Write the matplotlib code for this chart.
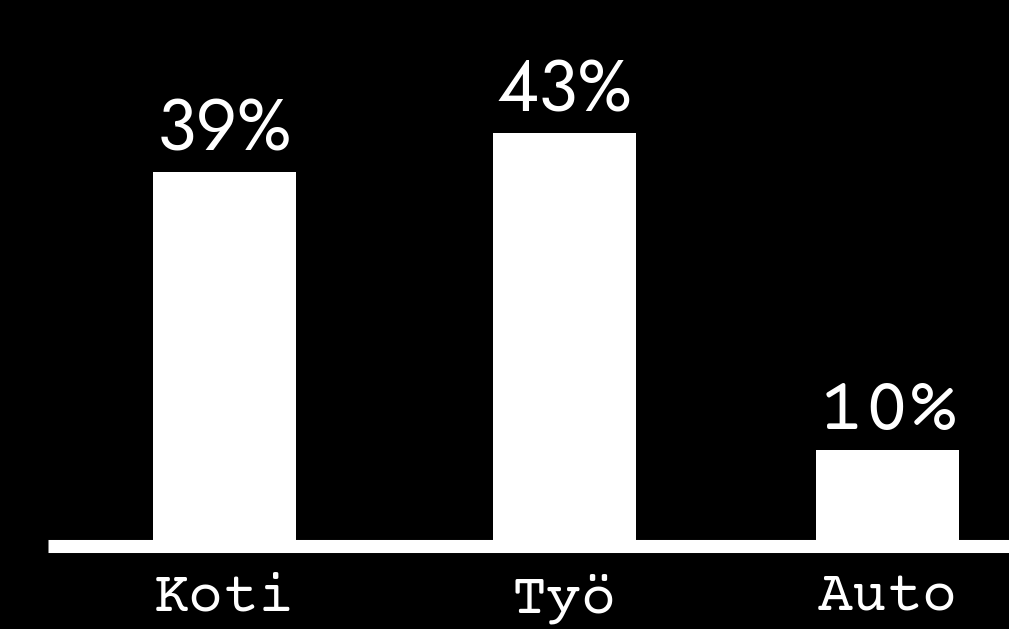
import matplotlib
matplotlib.use("Agg")
import matplotlib.pyplot as plt

# Data
kategoriat = ["Koti", "Työ", "Auto"]
osuudet = [39, 43, 10]
paikat = [0, 1, 1.95]
arvofontit = ["Jost", "Jost", "Courier Prime"]
arvokoot = [52, 52, 56]


def main():
    fig = plt.figure(figsize=(10.09, 6.29), dpi=100, facecolor="black")
    ax = fig.add_axes([48 / 1009, 1 - 546 / 629, 1 - 48 / 1009, 546 / 629])
    ax.set_facecolor("black")

    ax.bar(paikat, osuudet, width=0.42, color="white")
    ax.set_xlim(-0.518, 2.308)
    ax.set_ylim(0, 56.9)

    # Arvot palkkien ylle
    for x, v, fam, koko in zip(paikat, osuudet, arvofontit, arvokoot):
        ax.annotate(f"{v}%", (x, v), xytext=(0, 4), textcoords="offset points",
                    ha="center", va="bottom", color="white", fontsize=koko,
                    family=fam)

    for s in ["left", "right", "top"]:
        ax.spines[s].set_visible(False)
    ax.spines["bottom"].set_color("white")
    ax.spines["bottom"].set_linewidth(9.4)
    ax.spines["bottom"].set_capstyle("butt")
    ax.set_yticks([])
    ax.set_xticks(paikat)
    ax.set_xticklabels(kategoriat, family="Courier Prime", fontsize=42,
                       color="white")
    ax.tick_params(axis="x", length=0, pad=20)

    fig.savefig("out.png", facecolor="black")


if __name__ == "__main__":
    main()
